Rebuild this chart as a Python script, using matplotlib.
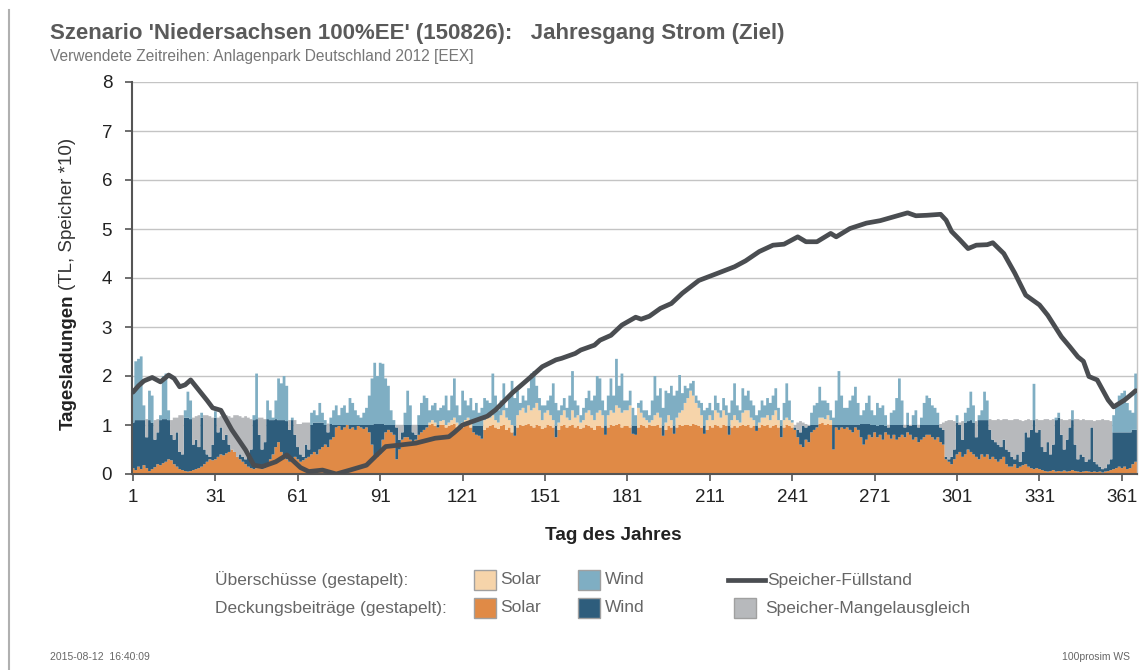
import numpy as np
import matplotlib
matplotlib.use('Agg')
import matplotlib.pyplot as plt
from matplotlib.patches import Rectangle
from matplotlib.lines import Line2D

plt.rcParams['font.family'] = ['Liberation Sans', 'DejaVu Sans']

# --- data (day 1..366) ---
days = np.arange(1, 367)

# top of the orange layer (Deckung Solar)
top_solar = [
    .12, .08, .15, .10, .18, .12, .06, .10, .14, .20,
    .18, .22, .25, .30, .28, .20, .15, .10, .08, .06,
    .05, .06, .08, .10, .12, .15, .20, .25, .30, .28,
    .30, .35, .40, .38, .42, .45, .50, .45, .35, .30,
    .25, .20, .15, .12, .10, .12, .15, .10, .12, .20,
    .30, .40, .55, .65, .45, .35, .30, .25, .30, .35,
    .30, .25, .28, .32, .35, .40, .45, .40, .50, .55,
    .60, .55, .70, .75, .95, .98, .90, .95, 1.00, .92,
    .95, .90, .98, .95, .92, .95, .85, .60, .30, .35,
    .40, .70, .85, .90, .85, .80, .30, .50, .70, .75,
    .75, .70, .65, .70, .80, .85, .90, .95, 1.00, 1.02,
    .98, .95, 1.00, 1.00, .95, .98, 1.00, 1.02, .95, .90,
    .95, .98, 1.00, .95, .85, .80, .78, .72, .90, .95,
    .98, 1.00, .95, .92, .98, 1.00, .90, .95, .85, .78,
    .95, 1.00, .98, 1.00, 1.02, .98, .95, 1.00, .98, .92,
    .95, 1.00, .98, .95, .75, .90, .98, 1.00, .95, .98,
    1.00, .95, .98, .92, .95, 1.00, .98, .95, .90, .98,
    .98, .95, .80, .95, 1.00, .98, 1.00, 1.02, .95, .98,
    .98, .95, .82, .80, .95, 1.00, .98, .95, 1.00, .98,
    .98, 1.00, .95, .78, .90, .98, .95, .82, .95, 1.00,
    .98, 1.00, 1.00, .98, 1.02, 1.00, .98, .95, .82, .90,
    .98, .95, 1.00, .98, .95, 1.00, .98, .80, .95, .98,
    .95, .98, 1.00, .98, 1.00, .95, .98, .88, .95, 1.00,
    .98, 1.00, .95, .98, 1.00, .95, .75, .95, 1.00, .98,
    .95, .90, .75, .60, .55, .70, .65, .85, .90, .95,
    1.02, 1.05, 1.00, 1.02, 1.00, .50, .95, .90, .95, .92,
    .95, .90, .85, .95, .90, .75, .60, .70, .80, .75,
    .85, .75, .80, .70, .85, .80, .72, .80, .70, .75,
    .80, .75, .85, .80, .70, .75, .65, .70, .75, .80,
    .80, .75, .70, .75, .65, .60, .30, .25, .20, .30,
    .40, .45, .35, .40, .50, .45, .40, .35, .30, .40,
    .35, .40, .30, .35, .30, .25, .30, .35, .20, .15,
    .15, .20, .12, .15, .18, .20, .15, .12, .10, .12,
    .10, .08, .06, .05, .06, .08, .05, .06, .05, .07,
    .05, .06, .08, .06, .05, .04, .05, .06, .05, .04,
    .05, .04, .05, .03, .05, .06, .08, .10, .12, .15,
    .12, .15, .10, .12, .20, .25,
]

# top of the dark blue layer (Deckung Wind), 0 = none
top_wind = [
    1.05, 1.10, 1.10, 1.10, 1.10, .75, 1.10, 1.05, .70, .85,
    1.10, 1.12, 1.12, 1.10, .80, .70, .85, .45, .40, 1.15,
    1.15, 1.12, .60, .70, .55, 1.15, .50, .40, .35, .60,
    1.15, .85, .95, .70, .80, .60, .45, .35, .30, .40,
    .35, .30, .40, .50, 1.10, 1.12, .80, .50, .65, 1.12,
    1.10, 1.10, 1.12, 1.10, 1.10, 1.10, 1.08, .90, 1.10, .80,
    .55, .40, .35, .60, .50, 1.00, 1.05, 1.05, 1.05, 1.05,
    1.00, .85, 1.02, 1.00, 1.00, 1.00, 1.00, 1.00, 1.00, 1.00,
    1.00, 1.00, 1.00, 1.00, 1.00, 1.00, 1.00, 1.00, 1.02, 1.02,
    1.02, 1.02, 1.00, 1.00, 1.00, 1.00, .95, .70, .85, 1.00,
    1.00, 1.00, .85, .80, 1.00, 1.00, 1.00, 1.00, 0, 0,
    0, 1.00, 0, 0, 0, 0, 0, 0, 0, 1.00,
    0, 0, 0, 0, .98, .98, .98, .98, 0, 0,
    0, 0, 0, 0, 0, 0, 0, 0, 0, .98,
    0, 0, 0, 0, 0, 0, 0, 0, 0, 0,
    0, 0, 0, 0, .98, 0, 0, 0, 0, 0,
    0, 0, 0, 0, 0, 0, 0, 0, 0, 0,
    0, 0, .98, 0, 0, 0, 0, 0, 0, 0,
    0, 0, .98, .98, 0, 0, 0, 0, 0, 0,
    0, 0, 0, .98, 0, 0, 0, .98, 0, 0,
    0, 0, 0, 0, 0, 0, 0, 0, .98, 0,
    0, 0, 0, 0, 0, 0, 0, .98, 0, 0,
    0, 0, 0, 0, 0, 0, 0, .98, 0, 0,
    0, 0, 0, 0, 0, 0, .98, 0, 0, 0,
    0, .95, .90, .85, .98, .95, .98, 1.00, 1.00, 1.00,
    0, 0, 0, 0, 0, 1.00, 1.00, 1.00, 1.00, 1.00,
    1.00, 1.00, 1.00, 1.00, 1.00, 1.02, 1.02, 1.02, 1.02, 1.00,
    1.00, .98, 1.00, 1.00, .98, .95, 1.00, 1.00, 1.00, 1.00,
    1.00, .95, 1.00, .98, 1.00, 1.00, .95, 1.00, 1.00, 1.00,
    1.00, 1.00, 1.00, 1.00, .95, .90, .35, .30, .35, .50,
    1.05, 1.00, .70, 1.05, 1.08, 1.10, 1.05, .75, 1.10, 1.10,
    1.10, 1.10, .90, .70, .65, .60, .55, .70, .50, .45,
    .35, .30, .40, .25, .45, .85, .75, .90, 1.10, .85,
    .90, .55, .45, .65, .40, .60, 1.10, 1.15, .80, .50,
    .70, .95, 1.10, .60, .30, .40, .35, .25, .30, .95,
    .25, .20, .15, .10, .12, .20, .30, .85, .85, .85,
    .85, .85, .85, .85, .90, .90,
]

# top of the grey layer (Speicher-Mangelausgleich), 0 = none
top_gap = [
    0, 0, 0, 0, 0, 1.12, 0, 0, 1.10, 1.12,
    0, 0, 0, 0, 1.10, 1.15, 1.15, 1.20, 1.20, 0,
    0, 0, 1.15, 1.18, 1.20, 0, 1.20, 1.20, 1.18, 1.15,
    0, 1.15, 1.18, 1.20, 1.20, 1.18, 1.15, 1.20, 1.20, 1.18,
    1.15, 1.18, 1.15, 1.12, 0, 0, 1.15, 1.15, 1.12, 0,
    0, 0, 0, 0, 0, 0, 0, 1.10, 0, 1.10,
    1.02, 1.02, 1.05, 1.05, 1.05, 0, 0, 0, 0, 0,
    0, 1.03, 0, 0, 0, 0, 0, 0, 0, 0,
    0, 0, 0, 0, 0, 0, 0, 0, 0, 0,
    0, 0, 0, 0, 0, 0, 1.00, 1.00, 1.00, 0,
    0, 0, 1.00, 1.00, 0, 0, 0, 0, 0, 0,
] + [0] * 130 + [
    0, 1.00, 1.05, 1.08, 1.05, 1.02, 1.00, 0, 0, 0,
    0, 0, 0, 0, 0, 0, 0, 0, 0, 0,
    0, 0, 0, 0, 0, 0, 0, 0, 0, 0,
    0, 0, 0, 0, 0, 1.00, 0, 0, 0, 0,
    0, 1.00, 0, 1.00, 0, 0, 1.00, 0, 0, 0,
    0, 0, 0, 0, 1.02, 1.05, 1.08, 1.10, 1.10, 1.08,
    0, 1.05, 1.08, 0, 0, 0, 0, 1.08, 0, 0,
    0, 0, 1.12, 1.10, 1.10, 1.12, 1.10, 1.12, 1.12, 1.10,
    1.10, 1.12, 1.12, 1.10, 1.08, 1.10, 1.12, 1.10, 0, 1.12,
    1.10, 1.10, 1.12, 1.12, 1.10, 1.12, 0, 0, 1.12, 1.10,
    1.10, 1.12, 0, 1.12, 1.12, 1.10, 1.12, 1.10, 1.10, 1.10,
    1.08, 1.10, 1.10, 1.12, 1.10, 1.10, 1.08, 0, 0, 0,
    0, 0, 0, 0, 0, 0,
]

# top of the light orange layer (Ueberschuss Solar), 0 = none
top_sur_solar = [0] * 100 + [
    0, 0, 0, 0, 0, 0, 0, 0, 1.05, 1.10,
    1.05, 0, 1.08, 1.10, 1.00, 1.05, 1.10, 1.15, 1.05, 0,
    1.05, 1.10, 1.15, 1.05, 0, 0, 0, 0, 1.10, 1.20,
    1.15, 1.20, 1.10, 1.05, 1.20, 1.30, 1.15, 1.10, 1.00, 0,
    1.20, 1.30, 1.35, 1.25, 1.40, 1.30, 1.35, 1.45, 1.30, 1.10,
    1.25, 1.30, 1.20, 1.10, 0, 1.05, 1.20, 1.30, 1.15, 1.10,
    1.30, 1.15, 1.20, 1.05, 1.10, 1.25, 1.30, 1.20, 1.10, 1.25,
    1.30, 1.20, 0, 1.20, 1.30, 1.25, 1.40, 1.35, 1.25, 1.30,
    1.30, 1.40, 0, 0, 1.35, 1.25, 1.15, 1.10, 1.05, 1.10,
    1.20, 1.25, 1.15, 0, 1.05, 1.20, 1.10, 0, 1.15, 1.25,
    1.30, 1.45, 1.55, 1.70, 1.60, 1.45, 1.35, 1.20, 0, 1.10,
    1.20, 1.10, 1.30, 1.25, 1.15, 1.30, 1.20, 0, 1.10, 1.20,
    1.10, 1.05, 1.25, 1.30, 1.30, 1.15, 1.10, 0, 1.05, 1.15,
    1.15, 1.20, 1.10, 1.20, 1.30, 1.10, 0, 1.10, 1.15, 1.10,
    1.05, 0, 0, 0, 0, 0, 0, 0, 0, 0,
    1.15, 1.15, 1.12, 1.20, 1.10, 0, 0, 0, 0, 0,
] + [0] * 106

# top of the light blue layer (Ueberschuss Wind), 0 = none
top_sur_wind = [
    1.75, 2.30, 2.35, 2.40, 1.40, 0, 1.70, 1.60, 0, 0,
    1.20, 2.00, 2.05, 1.30, 0, 0, 0, 0, 0, 1.30,
    1.68, 1.50, 0, 0, 0, 1.25, 0, 0, 0, 0,
    1.28, 0, 0, 0, 0, 0, 0, 0, 0, 0,
    0, 0, 0, 0, 1.20, 2.05, 0, 0, 0, 1.50,
    1.30, 1.15, 1.50, 1.95, 1.85, 2.00, 1.80, 0, 1.15, 0,
    0, 0, 0, 0, 0, 1.25, 1.30, 1.20, 1.45, 1.25,
    1.10, 0, 1.15, 1.30, 1.40, 1.20, 1.35, 1.40, 1.25, 1.55,
    1.45, 1.30, 1.20, 1.15, 1.25, 1.35, 1.60, 1.95, 2.27, 2.00,
    2.27, 2.25, 1.95, 1.80, 1.30, 1.10, 0, 0, 0, 1.25,
    1.70, 1.40, 0, 0, 1.20, 1.45, 1.60, 1.55, 1.30, 1.40,
    1.45, 1.30, 1.35, 1.40, 1.60, 1.30, 1.60, 1.95, 1.40, 1.20,
    1.70, 1.50, 1.40, 1.55, 1.30, 1.45, 1.25, 1.35, 1.55, 1.50,
    1.45, 2.05, 1.60, 1.30, 1.50, 1.85, 1.35, 1.60, 1.90, 1.55,
    1.70, 1.45, 1.60, 1.50, 1.75, 2.05, 2.10, 1.80, 1.55, 1.40,
    1.40, 1.50, 1.60, 1.85, 1.45, 1.30, 1.40, 1.55, 1.35, 1.60,
    2.10, 1.50, 1.40, 1.20, 1.35, 1.55, 1.70, 1.50, 1.60, 2.00,
    1.95, 1.50, 1.30, 1.60, 1.95, 1.60, 2.35, 1.80, 2.05, 1.50,
    1.50, 1.70, 1.35, 1.20, 1.45, 1.50, 1.30, 1.30, 1.20, 1.50,
    2.00, 1.60, 1.75, 1.35, 1.70, 1.65, 1.80, 1.60, 1.70, 2.02,
    1.65, 1.80, 1.75, 1.85, 1.90, 1.60, 1.50, 1.45, 1.30, 1.35,
    1.45, 1.30, 1.60, 1.45, 1.30, 1.55, 1.40, 1.25, 1.50, 1.85,
    1.40, 1.30, 1.75, 1.60, 1.70, 1.50, 1.40, 1.20, 1.30, 1.50,
    1.40, 1.55, 1.45, 1.60, 1.75, 1.35, 1.10, 1.45, 1.85, 1.50,
    1.10, 0, 0, 0, 0, 0, 0, 1.25, 1.40, 1.45,
    1.78, 1.50, 1.50, 1.45, 1.30, 1.15, 1.50, 2.10, 1.60, 1.35,
    1.35, 1.50, 1.60, 1.78, 1.45, 1.20, 1.30, 1.45, 1.60, 1.30,
    1.20, 1.45, 1.35, 1.40, 1.20, 0, 1.25, 1.30, 1.55, 1.95,
    1.50, 0, 1.25, 0, 1.20, 1.30, 0, 1.15, 1.45, 1.60,
    1.55, 1.40, 1.35, 1.25, 0, 0, 0, 0, 0, 0,
    1.20, 0, 0, 1.25, 1.35, 1.68, 1.40, 0, 1.20, 1.30,
    1.68, 1.50, 0, 0, 0, 0, 0, 0, 0, 0,
    0, 0, 0, 0, 0, 0, 0, 0, 1.84, 0,
    0, 0, 0, 0, 0, 0, 1.15, 1.25, 0, 0,
    0, 0, 1.30, 0, 0, 0, 0, 0, 0, 0,
    0, 0, 0, 0, 0, 0, 0, 1.20, 1.45, 1.60,
    1.65, 1.70, 1.45, 1.30, 1.25, 2.05,
]

# storage level (Speicher-Fuellstand, *10), read at these days
store_days = [1, 3, 5, 8, 11, 14, 16, 18, 20, 22, 25, 28, 30, 33, 37, 42, 45, 48,
              53, 57, 62, 65, 70, 75, 80, 86, 90, 93, 98, 104, 111, 116, 118, 121,
              126, 130, 133, 139, 146, 150, 155, 157, 162, 164, 169, 171, 175, 179,
              184, 186, 189, 193, 197, 201, 207, 214, 220, 224, 229, 234, 238, 243,
              246, 250, 255, 257, 262, 268, 273, 278, 283, 286, 290, 295, 297, 299,
              302, 305, 308, 312, 314, 318, 322, 326, 331, 334, 339, 342, 345, 347,
              349, 352, 356, 358, 362, 365, 366]
store_vals = [1.67, 1.80, 1.90, 1.97, 1.88, 2.02, 1.95, 1.78, 1.82, 1.92, 1.71, 1.50,
              1.35, 1.30, 0.90, 0.49, 0.18, 0.15, 0.25, 0.39, 0.13, 0.05, 0.08, 0.00,
              0.08, 0.18, 0.40, 0.56, 0.59, 0.63, 0.73, 0.76, 0.85, 1.00, 1.10, 1.18,
              1.31, 1.65, 1.99, 2.19, 2.33, 2.36, 2.46, 2.53, 2.63, 2.73, 2.83, 3.04,
              3.20, 3.16, 3.22, 3.38, 3.48, 3.69, 3.95, 4.10, 4.23, 4.35, 4.54, 4.67,
              4.69, 4.84, 4.74, 4.74, 4.91, 4.84, 5.01, 5.12, 5.17, 5.25, 5.33, 5.27,
              5.28, 5.30, 5.18, 4.95, 4.78, 4.60, 4.67, 4.68, 4.72, 4.50, 4.10, 3.65,
              3.45, 3.24, 2.80, 2.60, 2.39, 2.30, 1.99, 1.92, 1.51, 1.37, 1.51, 1.65,
              1.70]

xticks = [1, 31, 61, 91, 121, 151, 181, 211, 241, 271, 301, 331, 361]

c_solar = '#E08A46'
c_wind = '#2E5D7C'
c_gap = '#B7B9BC'
c_sur_solar = '#F6D4AA'
c_sur_wind = '#7FAEC3'
c_line = '#4A4D51'
c_text = '#666666'

# cumulative layer tops
s = np.array(top_solar, dtype=float)
w = np.maximum(np.array(top_wind, dtype=float), s)
g = np.maximum(np.array(top_gap, dtype=float), w)
p = np.maximum(np.array(top_sur_solar, dtype=float), g)
t = np.maximum(np.array(top_sur_wind, dtype=float), p)
edges = np.arange(0.5, 367.5, 1.0)

fig = plt.figure(figsize=(11.39, 6.70), dpi=100)
ax = fig.add_axes([131.6 / 1139, 1 - 474 / 670, (1137 - 131.6) / 1139, (474 - 82) / 670])

for lo, hi, col in [(np.zeros_like(s), s, c_solar), (s, w, c_wind), (w, g, c_gap),
                    (g, p, c_sur_solar), (p, t, c_sur_wind)]:
    ax.stairs(hi, edges, baseline=lo, fill=True, color=col, linewidth=0, zorder=2)

ax.plot(store_days, store_vals, color=c_line, linewidth=3.4, zorder=4,
        solid_joinstyle='round', solid_capstyle='round')

ax.set_xlim(0.5, 366.5)
ax.set_ylim(0, 8)
ax.set_xticks(xticks)
ax.set_yticks(range(0, 9))
ax.grid(axis='y', color='#c4c4c4', linewidth=1.0, zorder=0)
ax.set_axisbelow(True)
ax.tick_params(axis='both', labelsize=13.5, colors='#555555', labelcolor='#222222',
               length=5, width=1.2, direction='out')
ax.tick_params(axis='x', pad=6)
ax.tick_params(axis='y', pad=9)
for side in ['left', 'bottom']:
    ax.spines[side].set_color('#555555')
    ax.spines[side].set_linewidth(1.5)
ax.spines['top'].set_visible(False)
ax.spines['right'].set_color('#c4c4c4')
ax.spines['right'].set_linewidth(1.0)

fig.text(613 / 1139, 1 - 535 / 670, 'Tag des Jahres', ha='center', va='center',
         fontsize=13.7, fontweight='bold', color='#222222')

# y label, bold and regular parts
yl1 = fig.text(68 / 1139, 1 - 430 / 670, 'Tagesladungen', rotation=90, ha='center',
               va='bottom', fontsize=13.5, fontweight='bold', color='#222222')
fig.canvas.draw()
bb = yl1.get_window_extent()
fig.text(68 / 1139, (bb.y1 + 4) / fig.bbox.height, '(TL, Speicher *10)', rotation=90,
         ha='center', va='bottom', fontsize=13.5, color='#333333')

# titles
fig.text(50 / 1139, 1 - 33 / 670,
         "Szenario 'Niedersachsen 100%EE' (150826):   Jahresgang Strom (Ziel)",
         ha='left', va='center', fontsize=16, fontweight='bold', color='#5a5a5a')
fig.text(50 / 1139, 1 - 57 / 670, 'Verwendete Zeitreihen: Anlagenpark Deutschland 2012 [EEX]',
         ha='left', va='center', fontsize=11.2, color='#777777')

# legend
def swatch(x0, y0, col):
    fig.add_artist(Rectangle((x0 / 1139, 1 - (y0 + 10) / 670), 22 / 1139, 20 / 670,
                             transform=fig.transFigure, facecolor=col,
                             edgecolor='#a0a0a0', linewidth=1.0))

def ltext(x0, y0, txt):
    fig.text(x0 / 1139, 1 - y0 / 670, txt, ha='left', va='center', fontsize=12.5,
             color=c_text)

ltext(215, 580, 'Überschüsse (gestapelt):')
ltext(215, 608, 'Deckungsbeiträge (gestapelt):')
swatch(474, 580, c_sur_solar)
ltext(500, 580, 'Solar')
swatch(578, 580, c_sur_wind)
ltext(605, 580, 'Wind')
swatch(474, 608, c_solar)
ltext(500, 608, 'Solar')
swatch(578, 608, c_wind)
ltext(605, 608, 'Wind')
fig.add_artist(Line2D([728 / 1139, 765 / 1139], [1 - 580 / 670, 1 - 580 / 670],
                      transform=fig.transFigure, color=c_line, linewidth=3.4))
ltext(767, 580, 'Speicher-Füllstand')
swatch(734, 608, c_gap)
ltext(765, 608, 'Speicher-Mangelausgleich')

# footer and frame line
fig.text(50 / 1139, 1 - 657 / 670, '2015-08-12  16:40:09', ha='left', va='center',
         fontsize=7.5, color='#666666')
fig.text(1130 / 1139, 1 - 657 / 670, '100prosim WS', ha='right', va='center',
         fontsize=7.5, color='#666666')
fig.add_artist(Line2D([9 / 1139, 9 / 1139], [0, 1 - 10 / 670], transform=fig.transFigure,
                      color='#b0b0b0', linewidth=1.5))

fig.savefig('out.png', dpi=100)
